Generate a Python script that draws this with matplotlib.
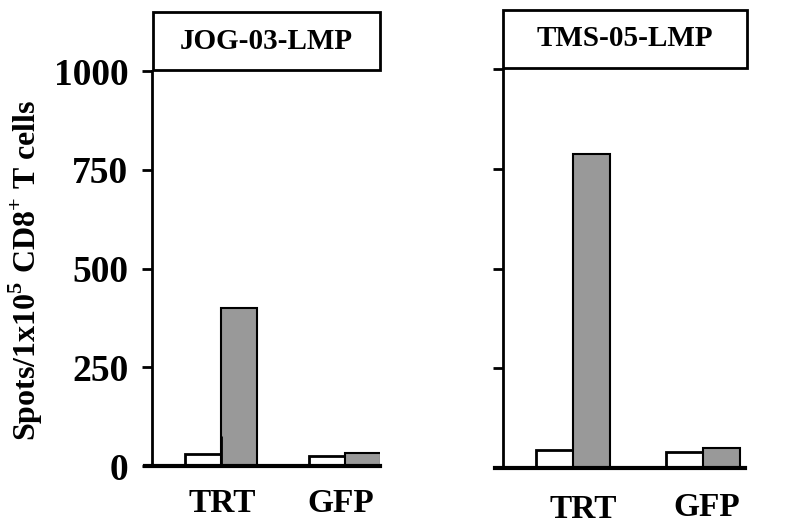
import matplotlib.pyplot as plt
from matplotlib.patches import Rectangle

plt.rcParams['font.family'] = ['Liberation Serif', 'DejaVu Serif']
plt.rcParams['font.weight'] = 'bold'
plt.rcParams['mathtext.fontset'] = 'custom'
plt.rcParams['mathtext.rm'] = 'Liberation Serif:bold'
plt.rcParams['mathtext.bf'] = 'Liberation Serif:bold'

# Données
groups = ["TRT", "GFP"]
jog_open = [30, 25]
jog_filled = [400, 34]
tms_open = [44, 41]
tms_filled = [787, 51]
yticks = [0, 250, 500, 750, 1000]

W, H = 788, 527
fig = plt.figure(figsize=(W / 100, H / 100), dpi=100)

def panel(rect, open_vals, filled_vals, centers, width, title, box, show_labels, label_xy):
    ax = fig.add_axes(rect)
    ax.bar([c - width / 2 for c in centers], open_vals, width, color="white",
           edgecolor="black", linewidth=2)
    ax.bar([c + width / 2 for c in centers], filled_vals, width, color="#999999",
           edgecolor="black", linewidth=1.5)
    ax.set_xlim(0, 1)
    ax.set_ylim(0, 1000)
    ax.set_yticks(yticks)
    if show_labels:
        ax.set_yticklabels([str(t) for t in yticks], fontsize=27, fontweight="bold")
    else:
        ax.set_yticklabels([])
    ax.tick_params(axis="y", direction="out", length=7, width=2, pad=10)
    ax.set_xticks([])
    for s in ["top", "right"]:
        ax.spines[s].set_visible(False)
    ax.spines["left"].set_linewidth(2)
    ax.spines["bottom"].set_linewidth(3)
    ax.spines["bottom"].set_bounds(-0.03, 1)
    for g, (px, py) in zip(groups, label_xy):
        fig.text(px / W, 1 - py / H, g, ha="center", va="center",
                 fontsize=24, fontweight="bold")
    # cadre du titre
    fig.patches.append(Rectangle((box[0], box[1]), box[2], box[3], transform=fig.transFigure,
                                 facecolor="white", edgecolor="black", linewidth=2))
    fig.text(box[0] + box[2] / 2, box[1] + box[3] / 2, title, ha="center", va="center",
             fontsize=21, fontweight="bold")
    return ax

ax1 = panel([0.193, 0.1157, 0.289, 0.7495], jog_open, jog_filled, [0.303, 0.846], 0.158,
            "JOG-03-LMP", [0.194, 0.867, 0.288, 0.110], True, [(222, 504), (341, 503)])
ax1.vlines(0.303, 0, 76, color="black", linewidth=2)
fig.text(0.033, 0.487, "Spots/1x10$^{5}$ CD8$^{+}$ T cells", rotation=90, ha="center",
         va="center", fontsize=23, fontweight="bold")

ax2 = panel([0.638, 0.112, 0.307, 0.757], tms_open, tms_filled, [0.289, 0.826], 0.153,
            "TMS-05-LMP", [0.638, 0.871, 0.310, 0.110], False, [(583, 509), (707, 507)])

plt.savefig("out.png", dpi=100)
